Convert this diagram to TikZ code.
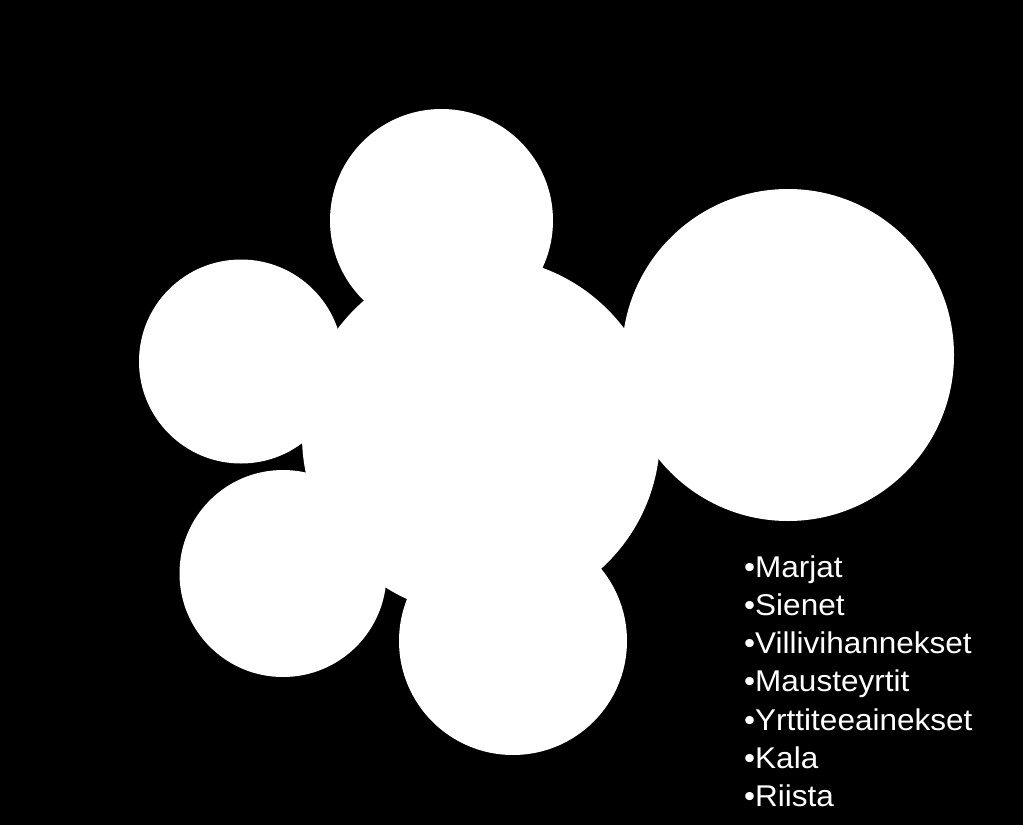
\documentclass[tikz,border=0pt]{standalone}
\usepackage{fontspec}
\setmainfont{Liberation Sans}
\newfontfamily\itemfont[FakeStretch=1.05]{Liberation Sans}
\begin{document}
\begin{tikzpicture}[x=1pt,y=-1pt,
  blob/.style={circle,fill=white,draw=none,inner sep=0pt},
  item/.style={anchor=base west,text=white,inner sep=0pt,font=\itemfont\fontsize{30}{34}\selectfont}]
\fill[black] (0,0) rectangle (1023,825);
\useasboundingbox (0,0) rectangle (1023,825);
\node[blob,minimum size=223pt] (top) at (441.5,220.5) {};
\node[blob,minimum size=204pt] (left) at (241,361.5) {};
\node[blob,minimum size=332pt] (right) at (788,355) {};
\node[blob,minimum size=207pt] (botleft) at (283,573.5) {};
\node[blob,minimum size=228pt] (bottom) at (513,641) {};
\node[blob,minimum size=358pt] (center) at (481,436) {};
\node[item] (t1) at (744,577) {•Marjat};
\node[item] (t2) at (744,615.3) {•Sienet};
\node[item] (t3) at (744,653.6) {•Villivihannekset};
\node[item] (t4) at (744,691.9) {•Mausteyrtit};
\node[item] (t5) at (744,730.2) {•Yrttiteeainekset};
\node[item] (t6) at (744,768.5) {•Kala};
\node[item] (t7) at (744,806.8) {•Riista};
\end{tikzpicture}
\end{document}
